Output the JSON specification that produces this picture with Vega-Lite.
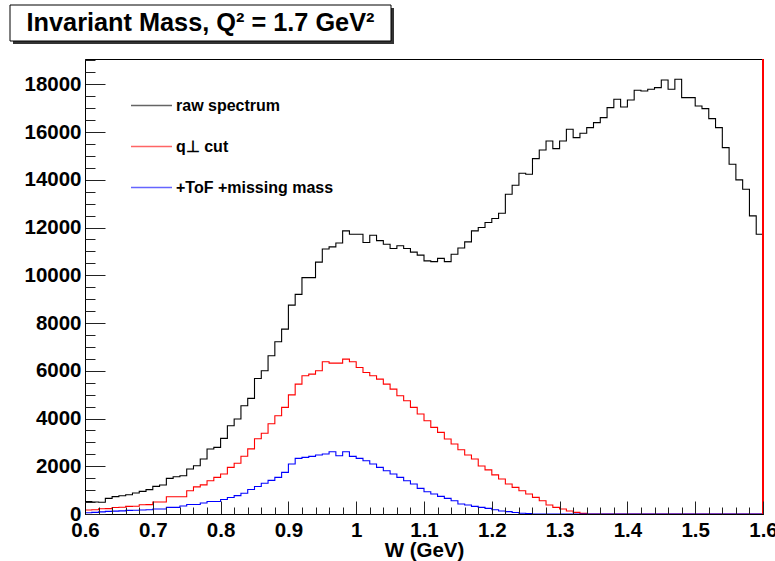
{
  "$schema": "https://vega.github.io/schema/vega-lite/v6.json",
  "background": "white",
  "padding": {"left": 8, "top": 4, "right": 0, "bottom": 0},
  "spacing": 13,
  "config": {"font": "Liberation Sans", "view": {"stroke": null}},
  "vconcat": [
    {
      "width": 381,
      "height": 36,
      "view": {"stroke": null, "fill": null},
      "data": {"values": [{"t": "Invariant Mass, Q² = 1.7 GeV²", "a": 0, "b": 1}]},
      "encoding": {
        "x": {"field": "a", "type": "quantitative", "scale": {"domain": [0, 1]}, "axis": null},
        "x2": {"field": "b"},
        "y": {"field": "a", "type": "quantitative", "scale": {"domain": [0, 1]}, "axis": null},
        "y2": {"field": "b"}
      },
      "layer": [
        {"mark": {"type": "rect", "fill": "#333333", "xOffset": -72, "x2Offset": -72, "yOffset": 3, "y2Offset": 3}},
        {"mark": {"type": "rect", "fill": "white", "stroke": "black", "strokeWidth": 1, "xOffset": -75, "x2Offset": -75}},
        {"mark": {"type": "text", "font": "Liberation Sans", "fontWeight": "bold", "fontSize": 25.3, "color": "black", "dx": -75},
         "encoding": {"x": {"value": 190.5}, "x2": null, "y": {"value": 18}, "y2": null, "text": {"field": "t"}}}
      ]
    },
    {
      "width": 678,
      "height": 455,
      "view": {"stroke": "black", "strokeWidth": 1},
      "resolve": {"axis": {"x": "independent", "y": "independent"}},
      "layer": [
        {
          "data": {"values": [
            {"w":0.60,"raw":520,"qcut":170,"tof":50},
            {"w":0.61,"raw":505,"qcut":180,"tof":70},
            {"w":0.62,"raw":490,"qcut":220,"tof":90},
            {"w":0.63,"raw":656,"qcut":225,"tof":110},
            {"w":0.64,"raw":726,"qcut":275,"tof":120},
            {"w":0.65,"raw":767,"qcut":280,"tof":130},
            {"w":0.66,"raw":809,"qcut":320,"tof":150},
            {"w":0.67,"raw":879,"qcut":322,"tof":160},
            {"w":0.68,"raw":949,"qcut":390,"tof":170},
            {"w":0.69,"raw":1019,"qcut":392,"tof":180},
            {"w":0.70,"raw":1158,"qcut":500,"tof":209},
            {"w":0.71,"raw":1214,"qcut":505,"tof":209},
            {"w":0.72,"raw":1493,"qcut":720,"tof":279},
            {"w":0.73,"raw":1563,"qcut":722,"tof":279},
            {"w":0.74,"raw":1605,"qcut":725,"tof":335},
            {"w":0.75,"raw":1884,"qcut":977,"tof":398},
            {"w":0.76,"raw":2023,"qcut":1137,"tof":398},
            {"w":0.77,"raw":2302,"qcut":1221,"tof":460},
            {"w":0.78,"raw":2721,"qcut":1395,"tof":523},
            {"w":0.79,"raw":2791,"qcut":1535,"tof":523},
            {"w":0.80,"raw":3168,"qcut":1674,"tof":610},
            {"w":0.81,"raw":3698,"qcut":1954,"tof":690},
            {"w":0.82,"raw":3977,"qcut":2128,"tof":770},
            {"w":0.83,"raw":4535,"qcut":2421,"tof":870},
            {"w":0.84,"raw":4842,"qcut":2730,"tof":1025},
            {"w":0.85,"raw":5679,"qcut":3150,"tof":1150},
            {"w":0.86,"raw":6000,"qcut":3380,"tof":1290},
            {"w":0.87,"raw":6628,"qcut":3780,"tof":1410},
            {"w":0.88,"raw":7214,"qcut":4116,"tof":1535},
            {"w":0.89,"raw":7744,"qcut":4465,"tof":1745},
            {"w":0.90,"raw":8749,"qcut":4990,"tof":2093},
            {"w":0.91,"raw":9200,"qcut":5442,"tof":2330},
            {"w":0.92,"raw":9900,"qcut":5791,"tof":2372},
            {"w":0.93,"raw":9900,"qcut":5860,"tof":2414},
            {"w":0.94,"raw":10550,"qcut":6000,"tof":2470},
            {"w":0.95,"raw":11100,"qcut":6377,"tof":2512},
            {"w":0.96,"raw":11190,"qcut":6321,"tof":2609},
            {"w":0.97,"raw":11350,"qcut":6321,"tof":2442},
            {"w":0.98,"raw":11860,"qcut":6488,"tof":2609},
            {"w":0.99,"raw":11720,"qcut":6377,"tof":2414},
            {"w":1.00,"raw":11720,"qcut":6140,"tof":2330},
            {"w":1.01,"raw":11372,"qcut":5930,"tof":2233},
            {"w":1.02,"raw":11679,"qcut":5791,"tof":2093},
            {"w":1.03,"raw":11450,"qcut":5651,"tof":1954},
            {"w":1.04,"raw":11300,"qcut":5442,"tof":1814},
            {"w":1.05,"raw":11121,"qcut":5233,"tof":1674},
            {"w":1.06,"raw":11240,"qcut":4953,"tof":1535},
            {"w":1.07,"raw":11120,"qcut":4744,"tof":1395},
            {"w":1.08,"raw":10970,"qcut":4465,"tof":1256},
            {"w":1.09,"raw":10845,"qcut":4186,"tof":1074},
            {"w":1.10,"raw":10604,"qcut":3907,"tof":935},
            {"w":1.11,"raw":10570,"qcut":3628,"tof":837},
            {"w":1.12,"raw":10710,"qcut":3419,"tof":740},
            {"w":1.13,"raw":10570,"qcut":3140,"tof":656},
            {"w":1.14,"raw":10884,"qcut":2930,"tof":558},
            {"w":1.15,"raw":11140,"qcut":2693,"tof":419},
            {"w":1.16,"raw":11400,"qcut":2470,"tof":377},
            {"w":1.17,"raw":11860,"qcut":2302,"tof":321},
            {"w":1.18,"raw":12000,"qcut":2010,"tof":279},
            {"w":1.19,"raw":12209,"qcut":1850,"tof":237},
            {"w":1.20,"raw":12380,"qcut":1640,"tof":181},
            {"w":1.21,"raw":12600,"qcut":1465,"tof":126},
            {"w":1.22,"raw":13395,"qcut":1256,"tof":100},
            {"w":1.23,"raw":13772,"qcut":1116,"tof":60},
            {"w":1.24,"raw":14274,"qcut":977,"tof":30},
            {"w":1.25,"raw":14232,"qcut":837,"tof":15},
            {"w":1.26,"raw":14888,"qcut":698,"tof":0},
            {"w":1.27,"raw":15251,"qcut":558,"tof":0},
            {"w":1.28,"raw":15628,"qcut":377,"tof":0},
            {"w":1.29,"raw":15307,"qcut":279,"tof":0},
            {"w":1.30,"raw":15628,"qcut":209,"tof":0},
            {"w":1.31,"raw":16116,"qcut":126,"tof":0},
            {"w":1.32,"raw":15767,"qcut":70,"tof":0},
            {"w":1.33,"raw":15949,"qcut":25,"tof":0},
            {"w":1.34,"raw":16186,"qcut":0,"tof":0},
            {"w":1.35,"raw":16395,"qcut":0,"tof":0},
            {"w":1.36,"raw":16604,"qcut":0,"tof":0},
            {"w":1.37,"raw":17023,"qcut":0,"tof":0},
            {"w":1.38,"raw":17372,"qcut":0,"tof":0},
            {"w":1.39,"raw":17051,"qcut":0,"tof":0},
            {"w":1.40,"raw":17344,"qcut":0,"tof":0},
            {"w":1.41,"raw":17749,"qcut":0,"tof":0},
            {"w":1.42,"raw":17721,"qcut":0,"tof":0},
            {"w":1.43,"raw":17791,"qcut":0,"tof":0},
            {"w":1.44,"raw":17860,"qcut":0,"tof":0},
            {"w":1.45,"raw":18181,"qcut":0,"tof":0},
            {"w":1.46,"raw":17791,"qcut":0,"tof":0},
            {"w":1.47,"raw":18209,"qcut":0,"tof":0},
            {"w":1.48,"raw":17442,"qcut":0,"tof":0},
            {"w":1.49,"raw":17442,"qcut":0,"tof":0},
            {"w":1.50,"raw":17093,"qcut":0,"tof":0},
            {"w":1.51,"raw":16981,"qcut":0,"tof":0},
            {"w":1.52,"raw":16562,"qcut":0,"tof":0},
            {"w":1.53,"raw":16186,"qcut":0,"tof":0},
            {"w":1.54,"raw":15349,"qcut":0,"tof":0},
            {"w":1.55,"raw":14651,"qcut":0,"tof":0},
            {"w":1.56,"raw":13995,"qcut":0,"tof":0},
            {"w":1.57,"raw":13605,"qcut":0,"tof":0},
            {"w":1.58,"raw":12488,"qcut":0,"tof":0},
            {"w":1.59,"raw":11721,"qcut":0,"tof":0},
            {"w":1.60,"raw":11721,"qcut":0,"tof":0}
          ]},
          "transform": [{"fold": ["raw", "qcut", "tof"], "as": ["series", "count"]}],
          "mark": {"type": "line", "interpolate": "step-after", "strokeWidth": 1.1, "clip": true},
          "encoding": {
            "x": {
              "field": "w", "type": "quantitative",
              "scale": {"domain": [0.6, 1.6], "nice": false, "zero": false},
              "axis": {
                "orient": "bottom", "zindex": 2,
                "values": [0.6,0.7,0.8,0.9,1,1.1,1.2,1.3,1.4,1.5,1.6],
                "ticks": true, "tickSize": -13, "tickColor": "#222222", "tickWidth": 1, "tickOpacity": 1,
                "labelExpr": "format(datum.value, '~g')",
                "labelPadding": 19,
                "labelFont": "Liberation Sans", "labelFontWeight": "bold", "labelFontSize": 20.5, "labelColor": "black",
                "labelFlush": false, "labelOverlap": false,
                "domainColor": "black", "grid": false,
                "title": "W (GeV)", "titleFont": "Liberation Sans", "titleFontWeight": "bold", "titleFontSize": 20.5, "titleColor": "black",
                "titlePadding": 0
              }
            },
            "y": {
              "field": "count", "type": "quantitative",
              "scale": {"domain": [0, 19060], "nice": false},
              "axis": {
                "orient": "left", "zindex": 2,
                "values": [0,2000,4000,6000,8000,10000,12000,14000,16000,18000],
                "format": "d",
                "ticks": true, "tickSize": -20, "tickColor": "#222222", "tickWidth": 1, "tickOpacity": 1,
                "labelPadding": 24,
                "labelFont": "Liberation Sans", "labelFontWeight": "bold", "labelFontSize": 20.5, "labelColor": "black",
                "labelFlush": false, "labelOverlap": false,
                "domainColor": "black", "grid": false,
                "title": null, "minExtent": 76, "maxExtent": 76
              }
            },
            "color": {
              "field": "series", "type": "nominal",
              "scale": {"domain": ["raw", "qcut", "tof"], "range": ["#000000", "#ff0000", "#0000ff"]},
              "legend": {
                "orient": "none", "legendX": 45, "legendY": 79, "title": null, "padding": 0,
                "symbolType": "stroke", "symbolSize": 1681, "symbolStrokeWidth": 1.5, "symbolOpacity": 0.6,
                "labelFont": "Liberation Sans", "labelFontWeight": "bold", "labelFontSize": 16, "labelColor": "black",
                "labelLimit": 300, "labelOffset": 3, "rowPadding": 11,
                "labelExpr": "datum.label == 'raw' ? 'raw spectrum' : datum.label == 'qcut' ? 'q⊥ cut' : '+ToF +missing mass'"
              }
            }
          }
        },
        {
          "data": {"values": [{"edge": 1.6, "lo": 0, "hi": 19060}]},
          "mark": {"type": "rule", "color": "#ff0000", "strokeWidth": 2},
          "encoding": {
            "x": {
              "field": "edge", "type": "quantitative",
              "scale": {"domain": [0.6, 1.6], "nice": false, "zero": false},
              "axis": {
                "orient": "bottom", "zindex": 2,
                "values": [0.62,0.64,0.66,0.68,0.72,0.74,0.76,0.78,0.82,0.84,0.86,0.88,0.92,0.94,0.96,0.98,1.02,1.04,1.06,1.08,1.12,1.14,1.16,1.18,1.22,1.24,1.26,1.28,1.32,1.34,1.36,1.38,1.42,1.44,1.46,1.48,1.52,1.54,1.56,1.58],
                "ticks": true, "tickSize": -7, "tickColor": "#222222", "tickWidth": 1, "tickOpacity": 1,
                "labels": false, "domain": false, "title": null
              }
            },
            "y": {
              "field": "lo", "type": "quantitative",
              "scale": {"domain": [0, 19060], "nice": false},
              "axis": {
                "orient": "left", "zindex": 2,
                "values": [500,1000,1500,2500,3000,3500,4500,5000,5500,6500,7000,7500,8500,9000,9500,10500,11000,11500,12500,13000,13500,14500,15000,15500,16500,17000,17500,18500,19000],
                "ticks": true, "tickSize": -10, "tickColor": "#222222", "tickWidth": 1, "tickOpacity": 1,
                "labels": false, "domain": false, "title": null
              }
            },
            "y2": {"field": "hi"}
          }
        }
      ]
    }
  ]
}
